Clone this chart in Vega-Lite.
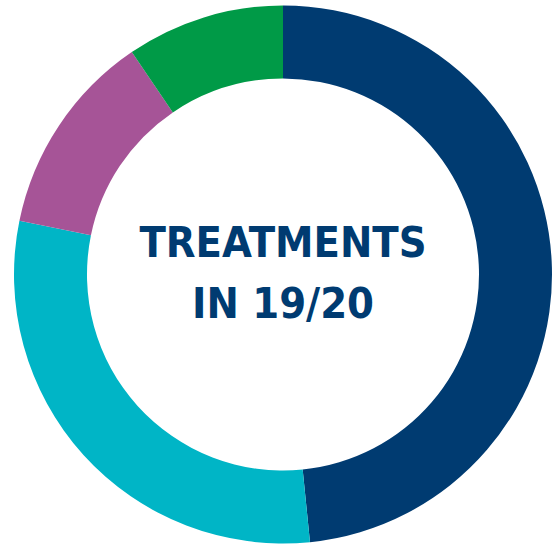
{
  "$schema": "https://vega.github.io/schema/vega-lite/v6.json",
  "width": 540,
  "height": 539,
  "autosize": "none",
  "padding": {"left": 13, "right": 0, "top": 5, "bottom": 5},
  "background": "white",
  "view": {"stroke": null},
  "layer": [
    {
      "data": {
        "values": [
          {"category": "Navy", "value": 48.4, "order": 1},
          {"category": "Teal", "value": 29.8, "order": 2},
          {"category": "Purple", "value": 12.3, "order": 3},
          {"category": "Green", "value": 9.5, "order": 4}
        ]
      },
      "mark": {"type": "arc", "outerRadius": 269, "innerRadius": 196},
      "encoding": {
        "theta": {"field": "value", "type": "quantitative", "stack": true},
        "order": {"field": "order", "type": "quantitative"},
        "color": {
          "field": "category",
          "type": "nominal",
          "scale": {"domain": ["Navy", "Teal", "Purple", "Green"], "range": ["#003B71", "#00B5C6", "#A65497", "#009A47"]},
          "legend": null
        }
      }
    },
    {
      "data": {"values": [{"label": "TREATMENTS\nIN 19/20"}]},
      "mark": {"type": "text", "font": "DejaVu Sans Condensed", "fontWeight": "bold", "fontSize": 43, "color": "#003B71", "lineBreak": "\n", "lineHeight": 61, "baseline": "middle", "align": "center", "dy": -31},
      "encoding": {"text": {"field": "label", "type": "nominal"}}
    }
  ]
}
